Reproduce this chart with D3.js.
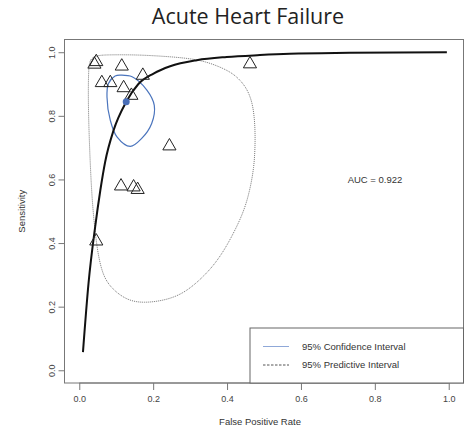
<!DOCTYPE html>
<html>
<head>
<meta charset="utf-8">
<script src="https://cdn.jsdelivr.net/npm/d3@7"></script>
<style>
  body { margin: 0; background: #fff; }
  text { font-family: "Liberation Sans", Arial, sans-serif; fill: #333; }
</style>
</head>
<body>
<div id="chart"></div>
<script>
// Study points (false positive rate, sensitivity)
const studyFpr  = [0.041, 0.046, 0.115, 0.172, 0.061, 0.084, 0.120, 0.141, 0.244, 0.113, 0.147, 0.158, 0.046, 0.462];
const studySens = [0.965, 0.973, 0.959, 0.930, 0.907, 0.907, 0.891, 0.867, 0.708, 0.582, 0.579, 0.571, 0.409, 0.966];

// Summary operating point
const summaryPoint = [0.127, 0.844];

// SROC curve
const srocFpr  = [0.010, 0.025, 0.043, 0.057, 0.070, 0.093, 0.127, 0.160, 0.201, 0.246, 0.318, 0.399, 0.489, 0.570, 0.732, 0.995];
const srocSens = [0.057, 0.273, 0.451, 0.566, 0.655, 0.755, 0.844, 0.900, 0.933, 0.956, 0.975, 0.985, 0.991, 0.995, 0.998, 1.000];

// 95% confidence region
const confFpr  = [0.111, 0.143, 0.183, 0.203, 0.196, 0.169, 0.138, 0.102, 0.084, 0.075, 0.079, 0.097];
const confSens = [0.928, 0.923, 0.881, 0.833, 0.776, 0.729, 0.704, 0.734, 0.786, 0.859, 0.902, 0.925];

// 95% predictive region
const predFpr  = [0.025, 0.030, 0.045, 0.080, 0.138, 0.192, 0.282, 0.336, 0.381, 0.417, 0.444, 0.460, 0.471, 0.476, 0.476, 0.473, 0.462, 0.444, 0.408, 0.380, 0.346, 0.289, 0.235, 0.173, 0.130, 0.092, 0.065, 0.049, 0.038, 0.032, 0.027, 0.024];
const predSens = [0.956, 0.978, 0.990, 0.992, 0.992, 0.990, 0.983, 0.973, 0.954, 0.933, 0.902, 0.870, 0.828, 0.765, 0.702, 0.639, 0.566, 0.493, 0.409, 0.355, 0.305, 0.245, 0.220, 0.211, 0.220, 0.252, 0.292, 0.371, 0.487, 0.588, 0.723, 0.849];

const ticks = [0, 0.2, 0.4, 0.6, 0.8, 1.0];
const aucLabel = "AUC = 0.922";

const width = 470, height = 430;
const svg = d3.select("#chart").append("svg")
  .attr("width", width).attr("height", height);

const x = d3.scaleLinear().domain([-0.04, 1.04]).range([64.5, 463.5]);
const y = d3.scaleLinear().domain([-0.04, 1.04]).range([383, 39.5]);

// title
svg.append("text")
  .attr("x", 248).attr("y", 24)
  .attr("text-anchor", "middle")
  .style("font-family", "'Open Sans', sans-serif")
  .style("font-size", "21.5px")
  .style("fill", "#222")
  .text("Acute Heart Failure");

// plot box
svg.append("rect")
  .attr("x", x(-0.04)).attr("y", y(1.04))
  .attr("width", x(1.04) - x(-0.04))
  .attr("height", y(-0.04) - y(1.04))
  .attr("fill", "none").attr("stroke", "#777").attr("stroke-width", 1);

// axes
const xAxis = svg.append("g")
  .attr("transform", `translate(0,${y(-0.04)})`)
  .call(d3.axisBottom(x).tickValues(ticks).tickFormat(d3.format(".1f")).tickSize(7).tickPadding(6));
const yAxis = svg.append("g")
  .attr("transform", `translate(${x(-0.04)},0)`)
  .call(d3.axisLeft(y).tickValues(ticks).tickFormat(d3.format(".1f")).tickSize(6).tickPadding(4));

[xAxis, yAxis].forEach(g => {
  g.select(".domain").attr("stroke", "#777")
    .attr("d", g === xAxis ? `M${x(0)},0H${x(1)}` : `M0,${y(0)}V${y(1)}`);
  g.selectAll(".tick line").attr("stroke", "#777");
  g.selectAll(".tick text").style("font-size", "9px").style("fill", "#444");
});
yAxis.selectAll(".tick text")
  .attr("transform", "rotate(-90,-12,0)")
  .attr("x", -12).attr("dy", "0.32em").attr("text-anchor", "middle");

// axis titles
svg.append("text")
  .attr("x", 260).attr("y", 425)
  .attr("text-anchor", "middle")
  .style("font-size", "9.5px")
  .text("False Positive Rate");
svg.append("text")
  .attr("transform", `translate(25,${(y(-0.04) + y(1.04)) / 2}) rotate(-90)`)
  .attr("text-anchor", "middle")
  .style("font-size", "9.5px")
  .text("Sensitivity");

// predictive region
const pred = predFpr.map((d, i) => [d, predSens[i]]);
svg.append("path")
  .datum(pred)
  .attr("d", d3.line().x(d => x(d[0])).y(d => y(d[1])).curve(d3.curveBasisClosed))
  .attr("fill", "none")
  .attr("stroke", "#666")
  .attr("stroke-width", 0.9)
  .attr("stroke-dasharray", "1,1");

// confidence region
const conf = confFpr.map((d, i) => [d, confSens[i]]);
svg.append("path")
  .datum(conf)
  .attr("d", d3.line().x(d => x(d[0])).y(d => y(d[1])).curve(d3.curveCatmullRomClosed))
  .attr("fill", "none")
  .attr("stroke", "#4a74bd")
  .attr("stroke-width", 1.2);

// SROC curve
const sroc = srocFpr.map((d, i) => [d, srocSens[i]]);
svg.append("path")
  .datum(sroc)
  .attr("d", d3.line().x(d => x(d[0])).y(d => y(d[1])).curve(d3.curveMonotoneX))
  .attr("fill", "none")
  .attr("stroke", "#111")
  .attr("stroke-width", 2);

// study triangles
const tri = d3.symbol().type(d3.symbolTriangle).size(75);
svg.append("g")
  .selectAll("path")
  .data(studyFpr.map((d, i) => [d, studySens[i]]))
  .join("path")
  .attr("transform", d => `translate(${x(d[0])},${y(d[1]) + 1})`)
  .attr("d", tri)
  .attr("fill", "none")
  .attr("stroke", "#222")
  .attr("stroke-width", 1);

// summary point
svg.append("circle")
  .attr("cx", x(summaryPoint[0])).attr("cy", y(summaryPoint[1]))
  .attr("r", 3.5)
  .attr("fill", "#4a6fb8");

// AUC
svg.append("text")
  .attr("x", 375).attr("y", 183)
  .attr("text-anchor", "middle")
  .style("font-size", "9.5px")
  .text(aucLabel);

// legend
const lg = svg.append("g");
lg.append("rect")
  .attr("x", 250).attr("y", 328)
  .attr("width", x(1.04) - 250).attr("height", y(-0.04) - 328)
  .attr("fill", "#fff").attr("stroke", "#666");
lg.append("line")
  .attr("x1", 263).attr("x2", 289).attr("y1", 346.5).attr("y2", 346.5)
  .attr("stroke", "#8fa8d8").attr("stroke-width", 1);
lg.append("line")
  .attr("x1", 263).attr("x2", 289).attr("y1", 365).attr("y2", 365)
  .attr("stroke", "#555").attr("stroke-width", 1).attr("stroke-dasharray", "2.5,1.5");
lg.append("text").attr("x", 302).attr("y", 349.5).style("font-size", "9.5px").text("95% Confidence Interval");
lg.append("text").attr("x", 302).attr("y", 368).style("font-size", "9.5px").text("95% Predictive Interval");
</script>
</body>
</html>
